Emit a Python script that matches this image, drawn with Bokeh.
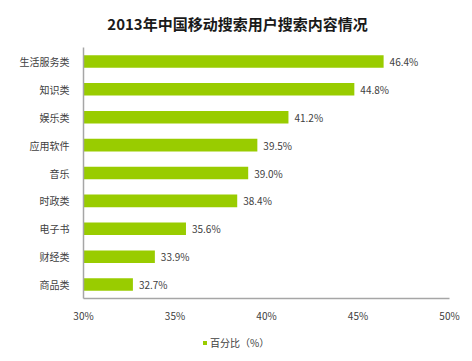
from bokeh.plotting import figure
from bokeh.layouts import column
from bokeh.models import (ColumnDataSource, FactorRange, FixedTicker, PrintfTickFormatter,
                          LabelSet, Label, Legend, LegendItem)
from bokeh.core.properties import value
from bokeh.embed import file_html
from bokeh.resources import INLINE

title_text = "2013年中国移动搜索用户搜索内容情况"
categories = ["生活服务类", "知识类", "娱乐类", "应用软件", "音乐", "时政类", "电子书", "财经类", "商品类"]
values = [46.4, 44.8, 41.2, 39.5, 39.0, 38.4, 35.6, 33.9, 32.7]
labels = ["46.4%", "44.8%", "41.2%", "39.5%", "39.0%", "38.4%", "35.6%", "33.9%", "32.7%"]
x_ticks = [30, 35, 40, 45, 50]
series_name = "百分比（%）"

FONT = "Noto Sans CJK SC"
GREEN = "#99cc00"


def strip(h):
    f = figure(width=472, height=h, output_backend="svg", toolbar_location=None,
               x_axis_type=None, y_axis_type=None, min_border=0,
               x_range=(0, 1), y_range=(0, 1))
    f.outline_line_color = None
    f.xgrid.visible = False
    f.ygrid.visible = False
    f.border_fill_color = "white"
    f.background_fill_color = "white"
    return f


# title strip
p0 = strip(36)
p0.add_layout(Label(x=154, y=13, x_units="screen", y_units="screen", text=title_text,
                    text_align="center", text_baseline="middle", text_font=FONT,
                    text_font_size="15px", text_font_style="bold", text_color="#1a1a1a"))

# main chart
src = ColumnDataSource(dict(cat=categories, val=values, lab=labels))

p = figure(width=472, height=289, output_backend="svg", toolbar_location=None,
           y_range=FactorRange(factors=list(reversed(categories)), range_padding=0),
           x_range=(30, 50),
           min_border_left=83, min_border_right=23, min_border_top=11, min_border_bottom=25)
p.outline_line_color = None
p.background_fill_color = "white"
p.border_fill_color = "white"
p.xgrid.visible = False
p.ygrid.visible = False

r = p.hbar(y="cat", right="val", left=30, height=0.45, source=src,
           fill_color=GREEN, line_color=None)

p.add_layout(LabelSet(x="val", y="cat", text="lab", source=src, x_offset=6,
                      text_baseline="middle", text_align="left",
                      text_font=value(FONT), text_font_size="10px", text_color="#404040"))

for ax in (p.xaxis[0], p.yaxis[0]):
    ax.axis_line_color = "#a6a6a6"
    ax.axis_line_width = 1.5
    ax.major_tick_line_color = None
    ax.minor_tick_line_color = None
    ax.major_label_text_font = FONT
    ax.major_label_text_font_size = "10px"
    ax.major_label_text_color = "#404040"

p.xaxis.ticker = FixedTicker(ticks=x_ticks)
p.xaxis.formatter = PrintfTickFormatter(format="%d%%")
p.xaxis.major_label_standoff = 3
p.yaxis.major_label_standoff = 8

# legend strip
p2 = strip(36)
r2 = p2.hbar(y=[0], left=[0], right=[0], height=0, fill_color=GREEN, line_color=None)

legend = Legend(items=[LegendItem(label=series_name, renderers=[r2])],
                location=(119, 11), orientation="horizontal",
                glyph_width=5, glyph_height=5, label_text_font=FONT,
                label_text_font_size="10px", label_text_color="#404040",
                padding=2, spacing=0, label_standoff=3,
                border_line_color=None, background_fill_alpha=0, margin=0)
p2.add_layout(legend, "center")

layout = column(p0, p, p2, spacing=0)
open("out.html", "w").write(file_html(layout, INLINE))
